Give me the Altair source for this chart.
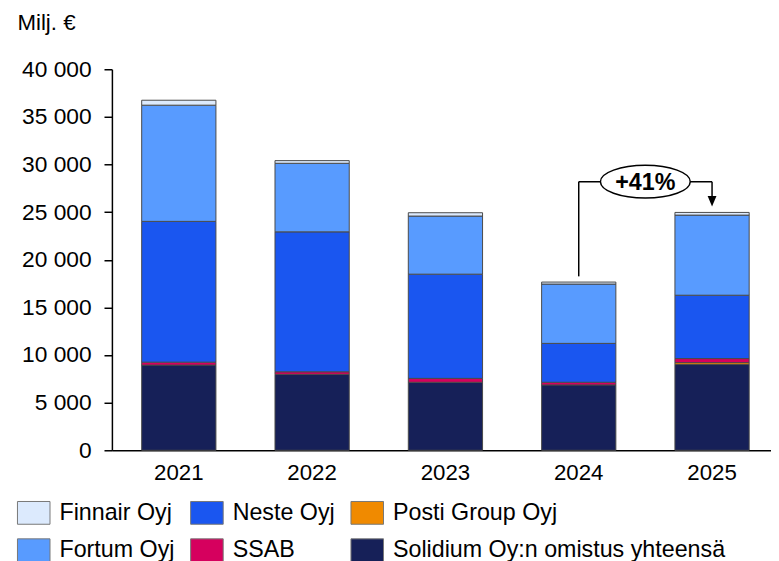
import altair as alt
import pandas as pd

# ---- data (million €) ----
years = ["2021", "2022", "2023", "2024", "2025"]
solidium = [8940, 7970, 7140, 6860, 9000]
posti = [0, 0, 0, 0, 200]
ssab = [310, 270, 410, 280, 430]
neste = [14780, 14690, 10940, 4080, 6650]
fortum = [12200, 7200, 6100, 6230, 8410]
finnair = [520, 280, 350, 210, 280]

# stacking order, bottom to top
series_names = ["Solidium Oy:n omistus yhteensä", "Posti Group Oyj", "SSAB",
                "Neste Oyj", "Fortum Oyj", "Finnair Oyj"]
series_values = [solidium, posti, ssab, neste, fortum, finnair]
series_colors = ["#162058", "#F08A00", "#D6005E", "#1A56F0", "#589BFF", "#DCEAFD"]

# legend order (row-wise, 3 columns)
legend_order = ["Finnair Oyj", "Neste Oyj", "Posti Group Oyj",
                "Fortum Oyj", "SSAB", "Solidium Oy:n omistus yhteensä"]
legend_colors = [series_colors[series_names.index(n)] for n in legend_order]

# annotation
ann_from, ann_to = "2024", "2025"
ann_label = "+41%"
bracket_level = 28200
line_gap = 600
arrow_center = 26150

rows = []
for k, (name, vals) in enumerate(zip(series_names, series_values)):
    for y, v in zip(years, vals):
        if v > 0:
            rows.append({"year": y, "series": name, "value": v, "order": k})
df = pd.DataFrame(rows)

totals = {y: sum(vals[i] for vals in series_values) for i, y in enumerate(years)}

FONT = "Liberation Sans"

xscale = alt.Scale(domain=years, paddingInner=0.443, paddingOuter=0.1935, align=0.577)
yscale = alt.Scale(domain=[0, 40000])

bars = alt.Chart(df).mark_bar(stroke="#4a4a4a", strokeWidth=1).encode(
    x=alt.X("year:N", scale=xscale, sort=years,
            axis=alt.Axis(title=None, labelAngle=0, ticks=False, tickSize=0,
                          labelPadding=12, labelFontSize=22.5, labelColor="black",
                          labelFont=FONT, domainColor="black", domainWidth=1.5,
                          grid=False)),
    y=alt.Y("value:Q", stack="zero", scale=yscale,
            axis=alt.Axis(title="Milj. €", titleAngle=0, titleAlign="left",
                          titleBaseline="top", titleX=-96, titleY=-58,
                          titleFontSize=22.5, titleFontWeight="normal",
                          titleFont=FONT, titleColor="black",
                          values=list(range(0, 40001, 5000)),
                          labelExpr="replace(format(datum.value, ','), ',', ' ')",
                          labelFontSize=23, labelFont=FONT, labelColor="black",
                          labelPadding=13, tickSize=8, tickColor="black",
                          tickWidth=1.5, domainColor="black", domainWidth=1.5,
                          grid=False)),
    color=alt.Color("series:N",
                    scale=alt.Scale(domain=legend_order, range=legend_colors),
                    legend=alt.Legend(title=None, orient="none", legendX=-91,
                                      legendY=436, columns=3, direction="horizontal",
                                      rowPadding=10, columnPadding=13, labelOffset=14,
                                      symbolType="M-1.43,-1L1.43,-1L1.43,1L-1.43,1Z",
                                      symbolSize=529, symbolStrokeColor="#777",
                                      symbolStrokeWidth=1, symbolOpacity=1,
                                      labelFontSize=23.5, labelFont=FONT,
                                      labelColor="black", labelLimit=420)),
    order=alt.Order("order:Q", sort="ascending"),
)

ann_df = pd.DataFrame([{
    "x1": ann_from, "x2": ann_to,
    "ystart": totals[ann_from] + line_gap,
    "level": bracket_level,
    "arrow": arrow_center,
    "label": ann_label,
}])

base = alt.Chart(ann_df)
v_left = base.mark_rule(color="black", strokeWidth=1.5).encode(
    x=alt.X("x1:N", scale=xscale),
    y=alt.Y("ystart:Q", scale=yscale), y2="level:Q")
h_line = base.mark_rule(color="black", strokeWidth=1.5).encode(
    x=alt.X("x1:N", scale=xscale), x2="x2:N",
    y=alt.Y("level:Q", scale=yscale))
v_right = base.mark_rule(color="black", strokeWidth=1.5).encode(
    x=alt.X("x2:N", scale=xscale),
    y=alt.Y("level:Q", scale=yscale), y2="arrow:Q")
arrow = base.mark_point(shape="M-0.85,-1L0.85,-1L0,1Z", size=110, filled=True,
                        color="black", opacity=1).encode(
    x=alt.X("x2:N", scale=xscale),
    y=alt.Y("arrow:Q", scale=yscale))
ellipse = base.mark_point(shape="M-2.75,0A2.75,1,0,1,0,2.75,0A2.75,1,0,1,0,-2.75,0Z",
                          size=1089, fill="white", stroke="black", strokeWidth=1.5,
                          filled=False, opacity=1, fillOpacity=1, xOffset=67.3).encode(
    x=alt.X("x1:N", scale=xscale),
    y=alt.Y("level:Q", scale=yscale))
label = base.mark_text(fontSize=23.5, fontWeight="bold", font=FONT, color="black",
                       xOffset=67.3, dy=1).encode(
    x=alt.X("x1:N", scale=xscale),
    y=alt.Y("level:Q", scale=yscale), text="label:N")

chart = alt.layer(bars, v_left, h_line, v_right, arrow, ellipse, label).properties(
    width=666, height=385,
    autosize=alt.AutoSizeParams(type="none"),
    padding={"left": 105, "top": 59, "right": 0, "bottom": 112},
).configure(font=FONT).configure_view(stroke=None).configure_axis(grid=False)

chart.save("out.html", embed_options={"renderer": "svg", "actions": False})
